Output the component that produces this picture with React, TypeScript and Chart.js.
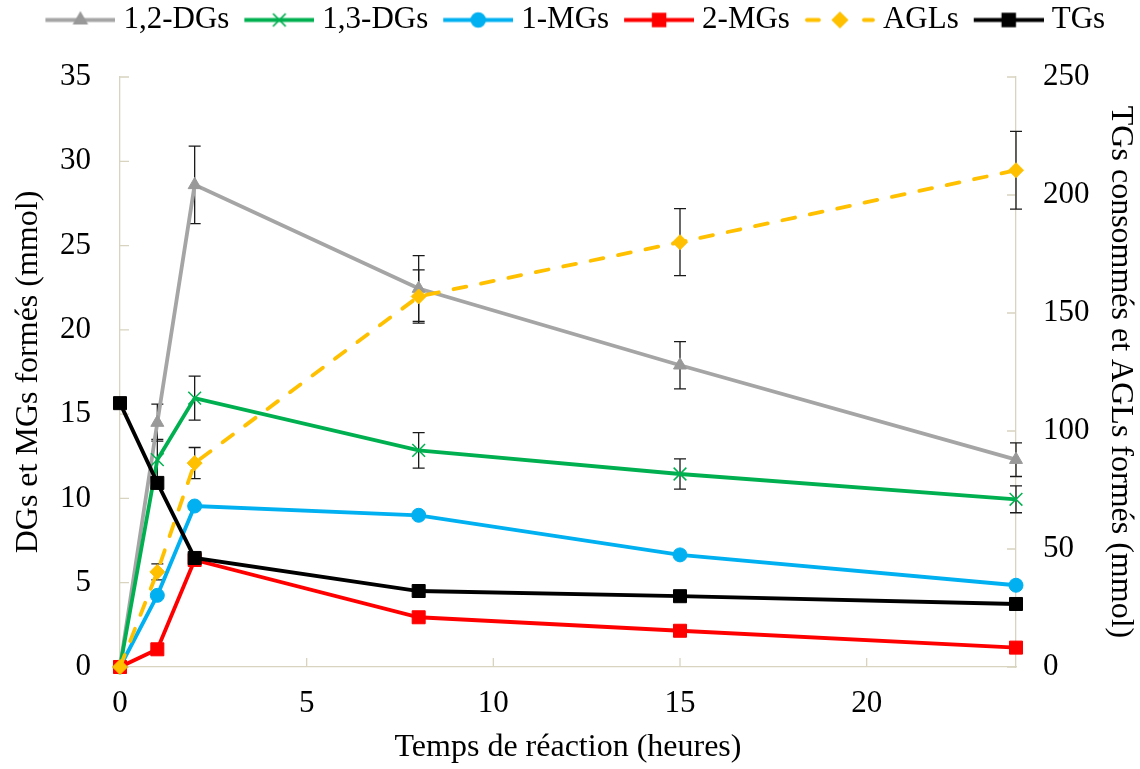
import React, { useEffect, useRef } from 'react';
import { Chart, registerables } from 'chart.js';
import { drawPoint } from 'chart.js/helpers';

Chart.register(...registerables);

// ---- data ----
const times = [0, 1, 2, 8, 15, 24];
const seriesNames = ['1,2-DGs', '1,3-DGs', '1-MGs', '2-MGs', 'AGLs', 'TGs'];
const dg12 = [0, 14.5, 28.6, 22.45, 17.9, 12.3];
const dg12Err = [0, 1.1, 2.3, 1.95, 1.4, 1.0];
const dg13 = [0, 12.3, 15.95, 12.85, 11.45, 9.95];
const dg13Err = [0, 1.2, 1.3, 1.05, 0.9, 0.8];
const mg1 = [0, 4.25, 9.55, 9.0, 6.65, 4.85];
const mg2 = [0, 1.05, 6.35, 2.95, 2.15, 1.15];
const agl = [0, 40.3, 86.4, 157, 180, 210.5];
const aglErr = [0, 3.4, 6.6, 11.3, 14.2, 16.5];
const tg = [111.8, 78, 46.2, 32.2, 30, 26.7];

const xTickValues = [0, 5, 10, 15, 20];
const leftTickValues = [0, 5, 10, 15, 20, 25, 30, 35];
const rightTickValues = [0, 50, 100, 150, 200, 250];

const xTitle = 'Temps de réaction (heures)';
const leftTitle = 'DGs et MGs formés (mmol)';
const rightTitle = 'TGs consommés et AGLs formés (mmol)';

const FONT = "'Liberation Serif', 'Times New Roman', serif";
const AXIS = '#d9d4c0';
const LINE_W = 3.8;

const styles = [
  { color: '#a5a5a5', pointColor: '#999999', pointStyle: 'triangle', radius: 7.5, dash: [] as number[] },
  { color: '#00b050', pointColor: '#00b050', pointStyle: 'crossRot', radius: 9, dash: [] as number[] },
  { color: '#00b0f0', pointColor: '#00b0f0', pointStyle: 'circle', radius: 7, dash: [] as number[] },
  { color: '#ff0000', pointColor: '#ff0000', pointStyle: 'rect', radius: 9.2, dash: [] as number[] },
  { color: '#ffc000', pointColor: '#ffc000', pointStyle: 'rectRot', radius: 7.5, dash: [13, 15] },
  { color: '#000000', pointColor: '#000000', pointStyle: 'rect', radius: 9.2, dash: [] as number[] },
];

const toPoints = (vals: number[]) => vals.map((v, i) => ({ x: times[i], y: v }));

function makeLegendIcon(i: number): HTMLCanvasElement {
  const st = styles[i];
  const c = document.createElement('canvas');
  c.width = 88;
  c.height = 31;
  const ctx = c.getContext('2d')!;
  const cy = 15.5;
  ctx.strokeStyle = st.color;
  ctx.lineWidth = LINE_W;
  if (st.dash.length) {
    ctx.lineCap = 'round';
    ctx.beginPath();
    ctx.moveTo(20, cy);
    ctx.lineTo(32, cy);
    ctx.moveTo(77, cy);
    ctx.lineTo(86, cy);
    ctx.stroke();
  } else {
    ctx.beginPath();
    ctx.moveTo(18, cy);
    ctx.lineTo(88, cy);
    ctx.stroke();
  }
  ctx.fillStyle = st.pointColor;
  ctx.strokeStyle = st.pointColor;
  ctx.lineWidth = 1.5;
  drawPoint(ctx, { pointStyle: st.pointStyle as any, radius: st.radius, rotation: 0, borderWidth: 1.5 }, 53, cy);
  return c;
}

const legendSpacer = {
  id: 'legendSpacer',
  beforeLayout(chart: any) {
    const lg = chart.legend;
    if (lg && !lg._spacerPatched) {
      const orig = lg.fit.bind(lg);
      lg.fit = function () {
        orig();
        this.height += 31.5;
      };
      lg._spacerPatched = true;
    }
  },
};

const axisDecor = {
  id: 'axisDecor',
  beforeDatasetsDraw(chart: any) {
    const ctx = chart.ctx;
    const { x, y, y1 } = chart.scales;
    ctx.save();
    // inner tick marks
    ctx.strokeStyle = AXIS;
    ctx.lineWidth = 1.3;
    ctx.beginPath();
    x.ticks.forEach((t: any) => {
      const px = x.getPixelForValue(t.value);
      ctx.moveTo(px, x.top);
      ctx.lineTo(px, x.top - 9);
    });
    y.ticks.forEach((t: any) => {
      const py = y.getPixelForValue(t.value);
      ctx.moveTo(y.right, py);
      ctx.lineTo(y.right + 9, py);
    });
    y1.ticks.forEach((t: any) => {
      const py = y1.getPixelForValue(t.value);
      ctx.moveTo(y1.left, py);
      ctx.lineTo(y1.left - 9, py);
    });
    ctx.stroke();
    // error bars
    ctx.strokeStyle = '#1a1a1a';
    ctx.lineWidth = 1.3;
    chart.data.datasets.forEach((ds: any, di: number) => {
      if (!ds.errors) return;
      const meta = chart.getDatasetMeta(di);
      const sc = chart.scales[ds.yAxisID];
      meta.data.forEach((pt: any, i: number) => {
        const e = ds.errors[i];
        if (!e) return;
        const v = ds.data[i].y;
        const top = sc.getPixelForValue(v + e);
        const bot = sc.getPixelForValue(v - e);
        ctx.beginPath();
        ctx.moveTo(pt.x, top);
        ctx.lineTo(pt.x, bot);
        ctx.moveTo(pt.x - 6, top);
        ctx.lineTo(pt.x + 6, top);
        ctx.moveTo(pt.x - 6, bot);
        ctx.lineTo(pt.x + 6, bot);
        ctx.stroke();
      });
    });
    ctx.restore();
  },
};

export default function App() {
  const ref = useRef<HTMLCanvasElement>(null);

  useEffect(() => {
    document.body.style.margin = '0';
    const canvas = ref.current!;
    const allValues = [dg12, dg13, mg1, mg2, agl, tg];
    const errors = [dg12Err, dg13Err, null, null, aglErr, null];
    const axes = ['y', 'y', 'y', 'y', 'y1', 'y1'];
    const icons = seriesNames.map((_, i) => makeLegendIcon(i));

    const datasets = allValues.map((vals, i) => {
      const st = styles[i];
      return {
        label: seriesNames[i],
        data: toPoints(vals),
        yAxisID: axes[i],
        errors: errors[i],
        borderColor: st.color,
        backgroundColor: st.pointColor,
        borderWidth: LINE_W,
        borderDash: st.dash,
        borderCapStyle: st.dash.length ? 'round' : 'butt',
        pointStyle: st.pointStyle,
        pointRadius: st.radius,
        pointBorderWidth: st.pointStyle === 'crossRot' ? 1.5 : 1,
        pointBackgroundColor: st.pointColor,
        pointBorderColor: st.pointColor,
        tension: 0,
        clip: false,
        order: -i,
      };
    });

    const font = { family: FONT, size: 31 };
    const titleFont = { family: FONT, size: 32 };

    const chart = new Chart(canvas, {
      type: 'line',
      data: { datasets: datasets as any },
      options: {
        responsive: false,
        animation: false,
        events: [],
        layout: { padding: 0 },
        plugins: {
          tooltip: { enabled: false },
          legend: {
            position: 'top',
            align: 'center',
            labels: {
              usePointStyle: true,
              pointStyleWidth: 73,
              padding: 4.5,
              color: '#000',
              font,
              generateLabels: (ch: any) =>
                ch.data.datasets.map((ds: any, i: number) => ({
                  text: ds.label,
                  pointStyle: icons[i],
                  datasetIndex: i,
                  hidden: false,
                  fillStyle: 'transparent',
                  strokeStyle: 'transparent',
                  lineWidth: 0,
                  fontColor: '#000',
                })),
            },
          },
        },
        scales: {
          x: {
            type: 'linear',
            position: 'bottom',
            min: 0,
            max: 24,
            afterFit: (s: any) => {
              s.height = 102;
            },
            afterBuildTicks: (s: any) => {
              s.ticks = xTickValues.map((v) => ({ value: v }));
            },
            grid: { display: false, drawTicks: false },
            border: { display: true, color: AXIS, width: 1.3 },
            ticks: { color: '#000', font, padding: 18, maxRotation: 0, autoSkip: false },
            title: { display: true, text: xTitle, color: '#000', font: titleFont, padding: { top: 0, bottom: 2 } },
          },
          y: {
            type: 'linear',
            position: 'left',
            min: 0,
            max: 35,
            afterFit: (s: any) => {
              s.width = 120;
            },
            afterBuildTicks: (s: any) => {
              s.ticks = leftTickValues.map((v) => ({ value: v }));
            },
            grid: { display: false, drawTicks: false },
            border: { display: true, color: AXIS, width: 1.3 },
            ticks: { color: '#000', font, padding: 29, autoSkip: false },
            title: { display: true, text: leftTitle, color: '#000', font: titleFont, padding: { top: 9, bottom: 0 } },
          },
          y1: {
            type: 'linear',
            position: 'right',
            min: 0,
            max: 250,
            afterFit: (s: any) => {
              s.width = 124;
            },
            afterBuildTicks: (s: any) => {
              s.ticks = rightTickValues.map((v) => ({ value: v }));
            },
            grid: { display: false, drawTicks: false },
            border: { display: true, color: AXIS, width: 1.3 },
            ticks: { color: '#000', font, padding: 27, autoSkip: false },
            title: { display: true, text: rightTitle, color: '#000', font: titleFont, padding: { top: 0, bottom: 0 } },
          },
        },
      } as any,
      plugins: [legendSpacer, axisDecor],
    });

    return () => chart.destroy();
  }, []);

  return (
    <div style={{ width: 1140, height: 769 }}>
      <canvas ref={ref} width={1140} height={769} style={{ display: 'block' }} />
    </div>
  );
}
